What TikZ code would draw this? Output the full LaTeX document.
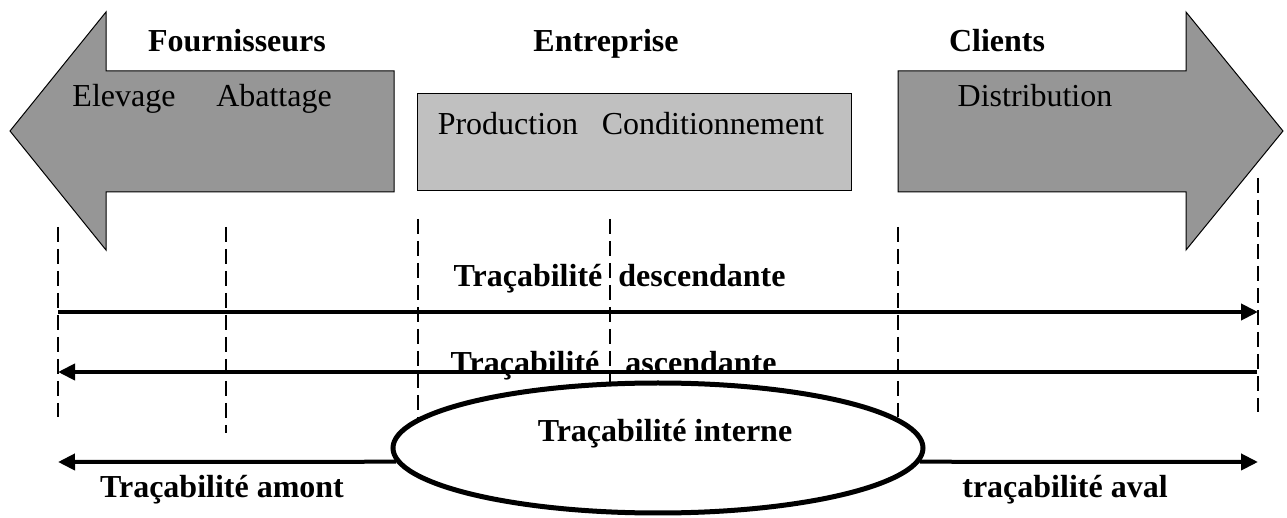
\documentclass[tikz,border=0pt]{standalone}
\usepackage{fontspec}
\setmainfont{Liberation Serif}
\usepackage{tikz}
\usetikzlibrary{arrows.meta, shapes.geometric, positioning}
\definecolor{grisfleche}{RGB}{150,150,150}
\definecolor{grisbloc}{RGB}{192,192,192}
\tikzstyle{fleche}=[draw=black, fill=grisfleche, line width=0.5pt]
\tikzstyle{bloc}=[rectangle, draw=black, fill=grisbloc, line width=0.5pt, minimum width=217pt, minimum height=48.5pt, inner sep=0pt]
\tikzstyle{titre}=[font=\fontsize{16}{19}\selectfont\bfseries, anchor=base, inner sep=0pt]
\tikzstyle{etape}=[font=\fontsize{16}{19}\selectfont, anchor=base, inner sep=0pt]
\tikzstyle{jalon}=[dash pattern=on 7.5pt off 3.5pt, line width=0.75pt]
\tikzstyle{flux}=[line width=2pt, -{Triangle[length=8.5pt, width=8pt]}]
\tikzstyle{zone}=[ellipse, draw=black, fill=white, line width=2.5pt, minimum width=265pt, minimum height=65pt, inner sep=0pt]

\begin{document}
\begin{tikzpicture}[x=0.5pt, y=-0.5pt]
    \useasboundingbox (0,0) rectangle (1287,518);

    % Fournisseurs:
    \draw[fleche] (10,131) -- (106,12) -- (106,71) -- (394,71) -- (394,192) -- (106,192) -- (106,250) -- cycle;
    \node[titre] (fourn) at (237,52) {Fournisseurs};
    \node[etape] (elev) at (124,107) {Elevage};
    \node[etape] (abat) at (274,107) {Abattage};

    % Entreprise:
    \node[bloc] (entr) at (634,142.5) {};
    \node[titre] (entrt) at (606,52) {Entreprise};
    \node[etape] (prod) at (508,135) {Production};
    \node[etape] (cond) at (713,135) {Conditionnement};

    % Clients:
    \draw[fleche] (898,71) -- (1186,71) -- (1186,12) -- (1283,131) -- (1186,250) -- (1186,192) -- (898,192) -- cycle;
    \node[titre] (cli) at (997,52) {Clients};
    \node[etape] (distr) at (1035,107) {Distribution};

    % Jalons:
    \coordinate (j1) at (58,227);   \coordinate (k1) at (58,417);
    \coordinate (j2) at (226,227);  \coordinate (k2) at (226,433);
    \coordinate (j3) at (418,219);  \coordinate (k3) at (418,430);
    \coordinate (j4) at (610,219);  \coordinate (k4) at (610,395);
    \coordinate (j5) at (898,227);  \coordinate (k5) at (898,417);
    \coordinate (j6) at (1258,178); \coordinate (k6) at (1258,412);
    \foreach \i in {1,...,6}
        \draw[jalon] (j\i) -- (k\i);

    % Interne:
    \node[zone] (interne) at (658,448) {};
    \node[titre] (intt) at (665,442) {Traçabilité interne};

    % Descendante / ascendante:
    \coordinate (descA) at (58,312);  \coordinate (descB) at (1258,312);
    \coordinate (ascA) at (1257,372); \coordinate (ascB) at (58,372);
    \node[titre] (desc1) at (528,287) {Traçabilité};
    \node[titre] (desc2) at (702,287) {descendante};
    \node[titre] (asc1) at (525,374) {Traçabilité};
    \node[titre] (asc2) at (701,374) {ascendante};
    \draw[flux] (descA) -- (descB);
    \draw[flux] (ascA) -- (ascB);

    % Amont / aval:
    \coordinate (amont) at (58,462);
    \coordinate (aval) at (1258,462);
    \draw[flux] (interne.183) -- (amont);
    \draw[flux] (interne.357) -- (aval);
    \node[titre] (amontt) at (222,498) {Traçabilité amont};
    \node[titre] (avalt) at (1065,498) {traçabilité aval};
\end{tikzpicture}
\end{document}
